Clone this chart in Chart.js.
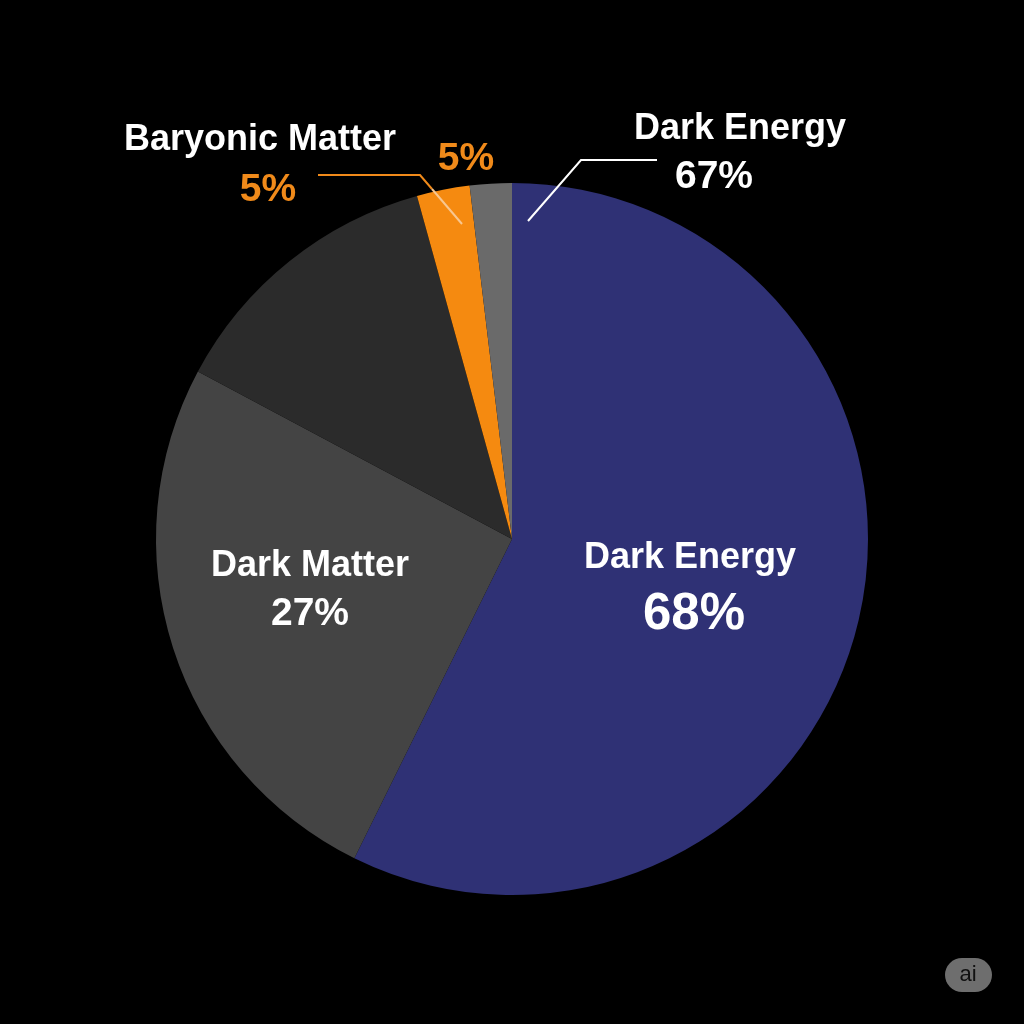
<!DOCTYPE html>
<html>
<head>
<meta charset="utf-8">
<script src="https://cdn.jsdelivr.net/npm/chart.js@4.4.1/dist/chart.umd.min.js"></script>
<style>
  html, body { margin: 0; padding: 0; background: #000; }
  #wrap { width: 1024px; height: 1024px; }
</style>
</head>
<body>
<div id="wrap"><canvas id="pie" width="1024" height="1024"></canvas></div>
<script>
// slice order: clockwise from 12 o'clock
const categories = ['Dark Energy', 'Dark Matter', 'Dark Matter (other)', 'Baryonic Matter', 'Other'];
const shares = [57.3, 25.5, 12.9, 2.4, 1.9];
const sliceColors = ['#2f3175', '#444444', '#2b2b2b', '#f58a10', '#6a6a6a'];

// text printed on the chart
const insideLabels = [['Dark Energy', '68%'], ['Dark Matter', '27%']];
const baryonicLabel = ['Baryonic Matter', '5%', '5%'];
const calloutLabel = ['Dark Energy', '67%'];

const FONT = '"Liberation Sans", Arial, sans-serif';

const labelPlugin = {
    id: 'labels',
    afterDatasetsDraw(chart) {
        const ctx = chart.ctx;
        ctx.save();
        ctx.textAlign = 'center';
        ctx.textBaseline = 'middle';

        // inside labels
        ctx.fillStyle = '#ffffff';
        ctx.font = 'bold 36px ' + FONT;
        ctx.fillText(insideLabels[0][0], 690, 558);
        ctx.font = 'bold 51px ' + FONT;
        ctx.fillText(insideLabels[0][1], 694, 615);
        ctx.font = 'bold 36px ' + FONT;
        ctx.fillText(insideLabels[1][0], 310, 566);
        ctx.font = 'bold 39px ' + FONT;
        ctx.fillText(insideLabels[1][1], 310, 614);

        // baryonic callout
        ctx.font = 'bold 36px ' + FONT;
        ctx.fillText(baryonicLabel[0], 260, 140);
        ctx.fillStyle = '#f08a1a';
        ctx.font = 'bold 39px ' + FONT;
        ctx.fillText(baryonicLabel[1], 268, 190);
        ctx.fillText(baryonicLabel[2], 466, 159);
        ctx.lineWidth = 2;
        ctx.strokeStyle = '#f08a1a';
        ctx.beginPath();
        ctx.moveTo(318, 175);
        ctx.lineTo(420, 175);
        ctx.lineTo(432, 189);
        ctx.stroke();
        ctx.strokeStyle = '#f8c790';
        ctx.beginPath();
        ctx.moveTo(432, 189);
        ctx.lineTo(462, 224);
        ctx.stroke();

        // dark energy callout
        ctx.fillStyle = '#ffffff';
        ctx.font = 'bold 36px ' + FONT;
        ctx.fillText(calloutLabel[0], 740, 129);
        ctx.font = 'bold 39px ' + FONT;
        ctx.fillText(calloutLabel[1], 714, 177);
        ctx.strokeStyle = '#ffffff';
        ctx.beginPath();
        ctx.moveTo(528, 221);
        ctx.lineTo(581, 160);
        ctx.lineTo(657, 160);
        ctx.stroke();

        // badge
        ctx.fillStyle = '#6e6e6e';
        ctx.beginPath();
        ctx.roundRect(945, 958, 47, 34, 17);
        ctx.fill();
        ctx.fillStyle = '#111111';
        ctx.font = '22px ' + FONT;
        ctx.fillText('ai', 968, 975);
        ctx.restore();
    }
};

new Chart(document.getElementById('pie'), {
    type: 'pie',
    data: {
        labels: categories,
        datasets: [{
            data: shares,
            backgroundColor: sliceColors,
            borderWidth: 0
        }]
    },
    options: {
        responsive: false,
        animation: false,
        layout: { padding: { left: 156, right: 156, top: 183, bottom: 129 } },
        plugins: {
            legend: { display: false },
            tooltip: { enabled: false }
        }
    },
    plugins: [labelPlugin]
});
</script>
</body>
</html>
